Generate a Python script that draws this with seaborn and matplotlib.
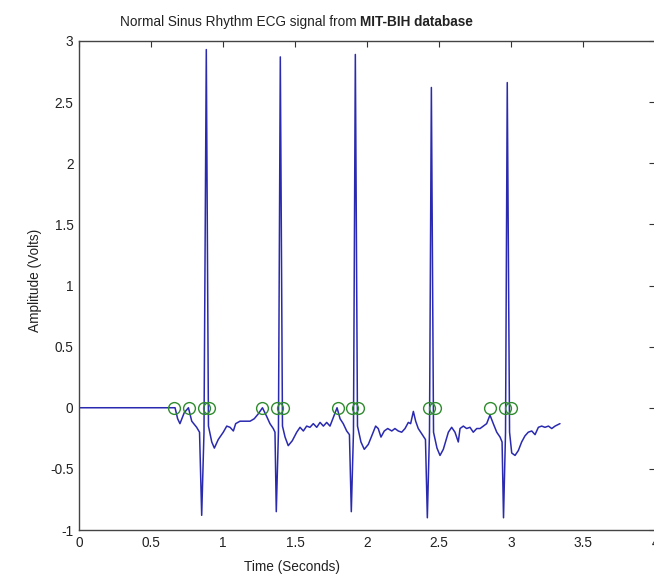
import matplotlib
matplotlib.use("Agg")
import matplotlib.pyplot as plt
import seaborn as sns
import pandas as pd
from matplotlib import font_manager

# ECG trace (time in s, amplitude in V)
time_s = [0.0, 0.667, 0.685, 0.701, 0.731, 0.760, 0.783, 0.817, 0.837, 0.852, 0.868, 0.884, 0.899,
          0.922, 0.940, 0.967, 1.002, 1.026, 1.049, 1.072, 1.088, 1.118, 1.153, 1.188, 1.217, 1.245, 1.274,
          1.303, 1.326, 1.349, 1.361, 1.370, 1.385, 1.398, 1.413, 1.431, 1.453, 1.481, 1.512, 1.535, 1.558,
          1.581, 1.604, 1.627, 1.651, 1.674, 1.697, 1.720, 1.743, 1.766, 1.792, 1.813, 1.835, 1.859, 1.878,
          1.891, 1.906, 1.919, 1.934, 1.958, 1.981, 2.009, 2.033, 2.060, 2.078, 2.097, 2.120, 2.144, 2.172,
          2.194, 2.217, 2.241, 2.264, 2.287, 2.303, 2.322, 2.338, 2.356, 2.384, 2.406,
          2.419, 2.434, 2.447, 2.462, 2.486, 2.507, 2.530, 2.565, 2.588, 2.611, 2.634, 2.646, 2.669, 2.692,
          2.715, 2.738, 2.762, 2.785, 2.808, 2.831, 2.854, 2.877, 2.901, 2.924, 2.938,
          2.948, 2.962, 2.974, 2.990, 3.005, 3.028, 3.051, 3.074, 3.097, 3.120, 3.144, 3.167, 3.190, 3.213,
          3.236, 3.260, 3.283, 3.306, 3.340]
amplitude_v = [0.0, 0.0, -0.09, -0.13, -0.04, 0.0, -0.11, -0.16, -0.20, -0.88, -0.20, 2.93, -0.15,
               -0.28, -0.33, -0.26, -0.20, -0.15, -0.16, -0.19, -0.13, -0.11, -0.11, -0.11, -0.09, -0.05, 0.0,
               -0.07, -0.13, -0.17, -0.20, -0.85, -0.20, 2.87, -0.15, -0.24, -0.31, -0.27, -0.20, -0.16, -0.19,
               -0.15, -0.16, -0.13, -0.16, -0.12, -0.15, -0.12, -0.15, -0.08, 0.0, -0.09, -0.13, -0.19, -0.22,
               -0.85, -0.20, 2.89, -0.15, -0.28, -0.34, -0.30, -0.23, -0.15, -0.17, -0.24, -0.19, -0.17, -0.19,
               -0.17, -0.19, -0.20, -0.17, -0.12, -0.13, -0.03, -0.11, -0.17, -0.22, -0.26,
               -0.90, -0.20, 2.62, -0.20, -0.33, -0.39, -0.34, -0.20, -0.16, -0.20, -0.28, -0.17, -0.15, -0.17,
               -0.16, -0.20, -0.17, -0.17, -0.15, -0.13, -0.06, -0.13, -0.20, -0.24, -0.28,
               -0.90, -0.20, 2.66, -0.20, -0.37, -0.39, -0.35, -0.28, -0.23, -0.20, -0.19, -0.22, -0.16, -0.15,
               -0.16, -0.15, -0.17, -0.15, -0.13]

# Detected fiducial points (plotted at 0 V)
marker_t = [0.662, 0.766, 0.866, 0.905, 1.273, 1.375, 1.414, 1.797, 1.899, 1.939,
            2.430, 2.474, 2.852, 2.960, 3.001]
marker_v = [0.0] * len(marker_t)

x_ticks = [0, 0.5, 1, 1.5, 2, 2.5, 3, 3.5, 4]
x_tick_labels = ["0", "0.5", "1", "1.5", "2", "2.5", "3", "3.5", "4"]
y_ticks = [-1, -0.5, 0, 0.5, 1, 1.5, 2, 2.5, 3]
y_tick_labels = ["-1", "-0.5", "0", "0.5", "1", "1.5", "2", "2.5", "3"]

sns.set_style("white")
available = {f.name for f in font_manager.fontManager.ttflist}
fams = [f for f in ['Liberation Sans Narrow', 'Liberation Sans'] if f in available] + ['DejaVu Sans']
plt.rcParams['font.family'] = fams
narrow = fams[0] == 'Liberation Sans Narrow'
fs = 11 if narrow else 9.8

W, H = 654, 578
fig = plt.figure(figsize=(W / 100, H / 100), dpi=100)
ax = fig.add_axes([79 / W, (H - 530) / H, (655 - 79) / W, (530 - 41) / H])

sig = pd.DataFrame({"t": time_s, "v": amplitude_v})
mk = pd.DataFrame({"t": marker_t, "v": marker_v})

sns.lineplot(data=sig, x="t", y="v", ax=ax, sort=False, estimator=None,
             color="#2a2ab0", linewidth=1.1)
sns.lineplot(data=mk, x="t", y="v", ax=ax, sort=False, estimator=None,
             linestyle="", marker="o", markersize=8.5, markerfacecolor="none",
             markeredgecolor="#2e8b2e", markeredgewidth=1.0)

ax.set_xlim(0, 4)
ax.set_ylim(-1, 3)
ax.set_xticks(x_ticks)
ax.set_xticklabels(x_tick_labels)
ax.set_yticks(y_ticks)
ax.set_yticklabels(y_tick_labels)
ax.tick_params(direction="in", length=4, width=0.8, color="#333333",
               top=True, right=True, labelsize=fs, labelcolor="#222222", pad=4)
for s in ax.spines.values():
    s.set_visible(True)
    s.set_color("#444444")
    s.set_linewidth(1.0)

ax.set_xlabel("Time (Seconds)", fontsize=fs, color="#222222")
ax.set_ylabel("Amplitude (Volts)", fontsize=fs, color="#222222")
ax.xaxis.set_label_coords((292 - 79) / 576, -0.062)
ax.yaxis.set_label_coords(-0.064, 0.51)

ty = 1 - 22 / H
fig.text(357 / W, ty, "Normal Sinus Rhythm ECG signal from", ha="right", va="center",
         fontsize=fs, color="#222222")
fig.text(360 / W, ty, "MIT-BIH database", ha="left", va="center",
         fontsize=fs, fontweight="bold", color="#222222")

fig.savefig("out.png", dpi=100)
